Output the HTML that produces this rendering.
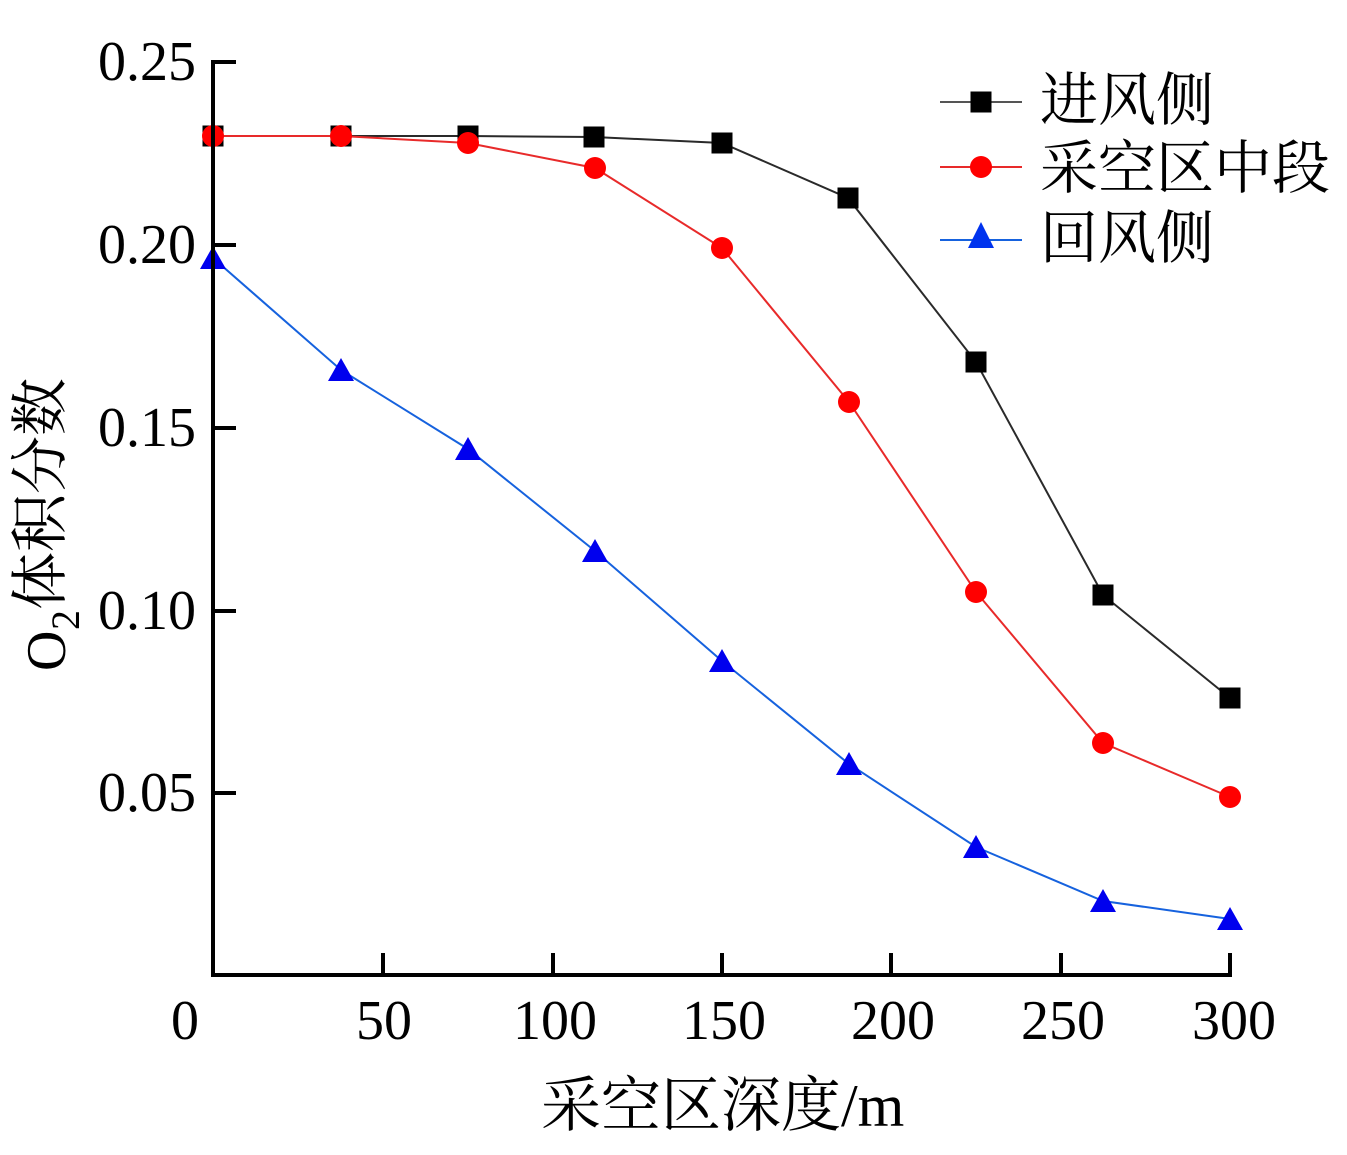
<!DOCTYPE html>
<html>
<head>
<meta charset="utf-8">
<style>
html,body{margin:0;padding:0;background:#fff;}
svg{display:block;}
text{font-family:"Liberation Serif","Noto Serif CJK SC",serif;fill:#000;}
.cjk{font-family:"Liberation Serif","Noto Serif CJK SC",serif;}
</style>
</head>
<body>
<svg width="1347" height="1155" viewBox="0 0 1347 1155" xmlns="http://www.w3.org/2000/svg">
  <rect width="1347" height="1155" fill="#fff"/>

  <!-- 进风侧 (black) -->
  <polyline fill="none" stroke="#2a2a2a" stroke-width="2"
    points="213,136 341,136 468,136 594,137 722,143 848,198 976,362 1103,595 1230,698"/>
  <g fill="#000">
    <rect x="202.5" y="125.5" width="21" height="21"/>
    <rect x="330.5" y="125.5" width="21" height="21"/>
    <rect x="457.5" y="125.5" width="21" height="21"/>
    <rect x="583.5" y="126.5" width="21" height="21"/>
    <rect x="711.5" y="132.5" width="21" height="21"/>
    <rect x="837.5" y="187.5" width="21" height="21"/>
    <rect x="965.5" y="351.5" width="21" height="21"/>
    <rect x="1092.5" y="584.5" width="21" height="21"/>
    <rect x="1219.5" y="687.5" width="21" height="21"/>
  </g>

  <!-- 采空区中段 (red) -->
  <polyline fill="none" stroke="#e82a2a" stroke-width="2"
    points="213,136 341,136 468,143 595,168 722,248 849,402 976,592 1103,743 1230,797"/>
  <g fill="#ff0000">
    <circle cx="213" cy="136" r="11"/>
    <circle cx="341" cy="136" r="11"/>
    <circle cx="468" cy="143" r="11"/>
    <circle cx="595" cy="168" r="11"/>
    <circle cx="722" cy="248" r="11"/>
    <circle cx="849" cy="402" r="11"/>
    <circle cx="976" cy="592" r="11"/>
    <circle cx="1103" cy="743" r="11"/>
    <circle cx="1230" cy="797" r="11"/>
  </g>

  <!-- 回风侧 (blue) -->
  <polyline fill="none" stroke="#1662de" stroke-width="2"
    points="213,258 341,370 468,449 595,551 722,661 849,764 976,847 1103,901 1230,919"/>
  <g fill="#0000ee">
    <polygon points="213,246 200,269 226,269"/>
    <polygon points="341,358 328,381 354,381"/>
    <polygon points="468,437 455,460 481,460"/>
    <polygon points="595,539 582,562 608,562"/>
    <polygon points="722,649 709,672 735,672"/>
    <polygon points="849,752 836,775 862,775"/>
    <polygon points="976,835 963,858 989,858"/>
    <polygon points="1103,889 1090,912 1116,912"/>
    <polygon points="1230,907 1217,930 1243,930"/>
  </g>

  <!-- axes -->
  <g stroke="#000" stroke-width="4" fill="none">
    <line x1="213" y1="60" x2="213" y2="977"/>
    <line x1="211" y1="975" x2="1232" y2="975"/>
    <!-- y ticks (inward) -->
    <line x1="213" y1="62" x2="236" y2="62"/>
    <line x1="213" y1="245" x2="236" y2="245"/>
    <line x1="213" y1="428" x2="236" y2="428"/>
    <line x1="213" y1="611" x2="236" y2="611"/>
    <line x1="213" y1="793" x2="236" y2="793"/>
    <!-- x ticks (inward) -->
    <line x1="383" y1="975" x2="383" y2="953"/>
    <line x1="553" y1="975" x2="553" y2="953"/>
    <line x1="722" y1="975" x2="722" y2="953"/>
    <line x1="891" y1="975" x2="891" y2="953"/>
    <line x1="1061" y1="975" x2="1061" y2="953"/>
    <line x1="1230" y1="975" x2="1230" y2="953"/>
  </g>

  <!-- y tick labels -->
  <g font-size="56" text-anchor="end">
    <text x="196" y="80">0.25</text>
    <text x="196" y="263">0.20</text>
    <text x="196" y="446">0.15</text>
    <text x="196" y="629">0.10</text>
    <text x="196" y="811">0.05</text>
  </g>

  <!-- x tick labels -->
  <g font-size="56" text-anchor="middle">
    <text x="185" y="1039">0</text>
    <text x="384" y="1039">50</text>
    <text x="555" y="1039">100</text>
    <text x="724" y="1039">150</text>
    <text x="893" y="1039">200</text>
    <text x="1063" y="1039">250</text>
    <text x="1234" y="1039">300</text>
  </g>

  <!-- x axis title -->
  <text x="541" y="1126" font-size="60" class="cjk">采空区深度/m</text>

  <!-- y axis title (rotated) -->
  <g transform="rotate(-90)">
    <text x="-671" y="65" font-size="56">O</text>
    <text x="-630" y="79" font-size="40">2</text>
    <text x="-610" y="60" font-size="58" class="cjk">体积分数</text>
  </g>

  <!-- legend -->
  <line x1="940" y1="102" x2="1022" y2="102" stroke="#555" stroke-width="2"/>
  <rect x="970.5" y="91.5" width="21" height="21" fill="#000"/>
  <line x1="940" y1="167" x2="1022" y2="167" stroke="#e82a2a" stroke-width="2"/>
  <circle cx="981" cy="167" r="11" fill="#ff0000"/>
  <line x1="940" y1="240" x2="1022" y2="240" stroke="#1662de" stroke-width="2"/>
  <polygon points="981,222 968,248 994,248" fill="#0033ee"/>

  <g font-size="58" class="cjk">
    <text x="1040" y="120">进风侧</text>
    <text x="1040" y="188">采空区中段</text>
    <text x="1040" y="258">回风侧</text>
  </g>
</svg>
</body>
</html>
